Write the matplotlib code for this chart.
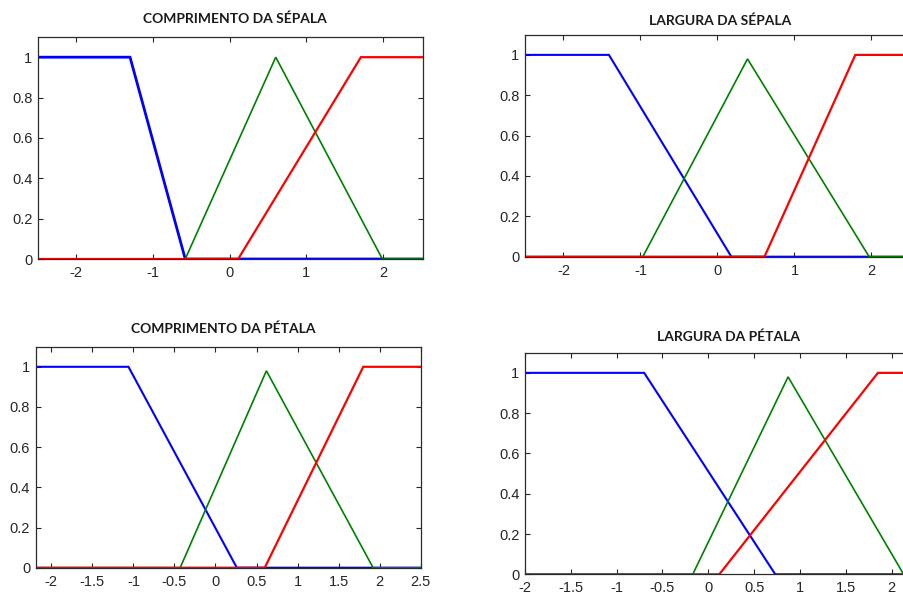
import matplotlib
matplotlib.use('Agg')
import matplotlib.pyplot as plt

FIG_W, FIG_H = 904, 599

# breakpoints of each membership function (x list, y list)
TITLES = ['COMPRIMENTO DA SÉPALA', 'LARGURA DA SÉPALA', 'COMPRIMENTO DA PÉTALA', 'LARGURA DA PÉTALA']
XLIMS = [(-2.5, 2.52), (-2.5, 2.52), (-2.19, 2.5), (-2.0, 2.2)]

cs_blue = ([-2.5, -1.30, -0.58, 2.52], [1, 1, 0, 0])
cs_green = ([-2.5, -0.58, 0.60, 1.99, 2.52], [0, 0, 1.0, 0, 0])
cs_red = ([-2.5, 0.11, 1.71, 2.52], [0, 0, 1, 1])

ls_blue = ([-2.5, -1.41, 0.18, 2.52], [1, 1, 0, 0])
ls_green = ([-2.5, -0.97, 0.39, 1.97, 2.52], [0, 0, 0.98, 0, 0])
ls_red = ([-2.5, 0.61, 1.79, 2.52], [0, 0, 1, 1])

cp_blue = ([-2.19, -1.06, 0.26, 2.5], [1, 1, 0, 0])
cp_green = ([-2.19, -0.43, 0.62, 1.92, 2.5], [0, 0, 0.98, 0, 0])
cp_red = ([-2.19, 0.60, 1.80, 2.5], [0, 0, 1, 1])

lp_blue = ([-2.0, -0.70, 0.73, 2.2], [1, 1, 0, 0])
lp_green = ([-2.0, -0.17, 0.87, 2.13, 2.2], [0, 0, 0.98, 0, 0])
lp_red = ([-2.0, 0.12, 1.85, 2.2], [0, 0, 1, 1])

SERIES = [(cs_blue, cs_green, cs_red), (ls_blue, ls_green, ls_red),
          (cp_blue, cp_green, cp_red), (lp_blue, lp_green, lp_red)]

XTICKS_INT = [-2, -1, 0, 1, 2]
XTICKS_HALF = [-2, -1.5, -1, -0.5, 0, 0.5, 1, 1.5, 2, 2.5]
XTICKS_HALF_SHORT = [-2, -1.5, -1, -0.5, 0, 0.5, 1, 1.5, 2]
XTICKS = [XTICKS_INT, XTICKS_INT, XTICKS_HALF, XTICKS_HALF_SHORT]
YTICKS = [0, 0.2, 0.4, 0.6, 0.8, 1]

# axes boxes in pixels: left, right, top, bottom (image coords)
BOXES = [(38, 423, 37, 259), (525, 911.5, 34.7, 256.7),
         (35.7, 420.7, 346.7, 567.7), (525, 910, 352.7, 574.3)]
TITLE_POS = [(235, 19), (720, 21), (223, 329), (729, 337)]

COLORS = ['#0000ff', '#008000', '#ff0000']
WIDTHS = [1.5, 1.2, 1.6]


def fmt(v):
    return ('%g' % v)


fig = plt.figure(figsize=(FIG_W / 100, FIG_H / 100), dpi=100)

for i in range(4):
    l, r, t, b = BOXES[i]
    ax = fig.add_axes([l / FIG_W, (FIG_H - b) / FIG_H, (r - l) / FIG_W, (b - t) / FIG_H])
    for (xs, ys), c, w in zip(SERIES[i], COLORS, WIDTHS):
        if i == 0 and c == '#0000ff':
            w = 2.0
        ax.plot(xs, ys, color=c, linewidth=w, solid_joinstyle='miter')
    ax.set_xticks(XTICKS[i])
    ax.set_xticklabels([fmt(v) for v in XTICKS[i]])
    ax.set_yticks(YTICKS)
    ax.set_yticklabels([fmt(v) for v in YTICKS])
    # limits after ticks so the ticks do not widen the view
    ax.set_xlim(*XLIMS[i])
    ax.set_ylim(0, 1.1)
    ax.tick_params(direction='in', length=3.5, width=0.8, top=True, right=True,
                   colors='#262626', labelsize=10.5, pad=4)
    ax.tick_params(axis='x', pad=5)
    for lab in ax.get_xticklabels() + ax.get_yticklabels():
        lab.set_fontfamily('Liberation Sans')
    for sp in ax.spines.values():
        sp.set_color('#2b2b2b')
        sp.set_linewidth(0.9)

    tx, ty = TITLE_POS[i]
    fig.text(tx / FIG_W, 1 - ty / FIG_H, TITLES[i], ha='center', va='center',
             fontsize=10, fontweight='bold', family='Lato', color='#1a1a1a')

plt.savefig('out.png', dpi=100)
